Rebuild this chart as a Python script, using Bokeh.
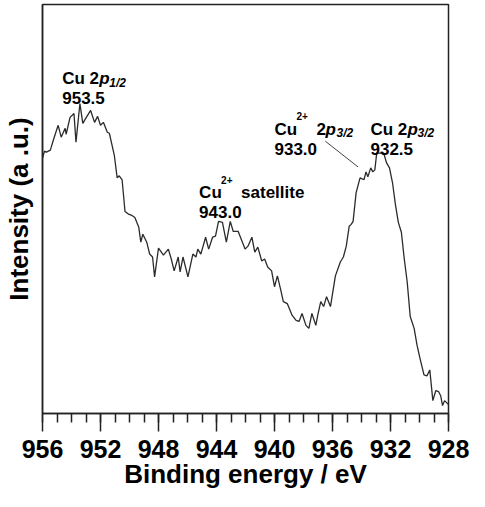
from bokeh.plotting import figure
from bokeh.models import Range1d, SingleIntervalTicker, FixedTicker, Label, ColumnDataSource
from bokeh.embed import file_html
from bokeh.resources import INLINE

# Binding energy (eV) and intensity (a.u.)
energy = [956.00, 955.86, 955.73, 955.46, 955.19, 954.92, 954.71, 954.44, 954.37, 954.10,
          953.83, 953.69, 953.42, 953.22, 953.02, 952.68, 952.41, 952.20, 952.00, 951.80,
          951.53, 951.39, 951.05, 950.85, 950.71, 950.51, 950.31, 950.03, 949.83, 949.63,
          949.36, 949.22, 949.08, 948.81, 948.61, 948.41, 948.27, 948.00, 947.66, 947.32,
          947.12, 946.92, 946.64, 946.51, 946.31, 945.97, 945.63, 945.42, 945.29, 945.08,
          944.75, 944.54, 944.27, 944.07, 943.86, 943.59, 943.32, 943.05, 942.85, 942.51,
          942.03, 941.83, 941.56, 941.36, 941.15, 940.88, 940.68, 940.47, 940.20, 940.00,
          939.80, 939.59, 939.39, 939.12, 938.78, 938.51, 938.31, 938.10, 937.83, 937.63,
          937.42, 937.15, 937.02, 936.81, 936.61, 936.41, 936.14, 935.80, 935.46, 935.25,
          935.05, 934.85, 934.71, 934.58, 934.37, 934.10, 933.83, 933.69, 933.56, 933.36,
          933.22, 933.08, 932.95, 932.68, 932.47, 932.27, 932.07, 931.86, 931.66, 931.46,
          931.25, 931.05, 930.85, 930.64, 930.37, 930.17, 929.97, 929.69, 929.49, 929.29,
          929.08, 928.88, 928.68, 928.54, 928.41, 928.27, 928.00]
intensity = [258, 265, 264, 266, 279, 291, 279, 288, 282, 299,
             303, 274, 313, 293, 298, 306, 294, 300, 291, 294,
             284, 283, 261, 238, 240, 236, 204, 201, 200, 198,
             188, 173, 181, 173, 161, 158, 138, 167, 160, 166,
             156, 144, 158, 143, 158, 138, 161, 158, 166, 161,
             178, 166, 178, 179, 194, 193, 173, 194, 184, 184,
             166, 169, 178, 163, 168, 154, 156, 148, 144, 128,
             139, 126, 113, 111, 99, 94, 93, 101, 89, 86,
             101, 89, 99, 113, 108, 118, 108, 139, 153, 158,
             169, 189, 191, 194, 223, 238, 236, 244, 239, 248,
             244, 246, 263, 263, 263, 253, 248, 233, 211, 193,
             183, 156, 133, 98, 86, 69, 56, 39, 38, 44,
             13, 23, 22, 18, 8, 13, 9]

x_min, x_max = 956, 928
y_min, y_max = 0, 413

x_title = "Binding energy / eV"
y_title = "Intensity (a .u.)"

FONT = "Liberation Sans"
INK = "#222222"

p = figure(width=469, height=491, output_backend="svg", toolbar_location=None,
           x_range=Range1d(x_min, x_max), y_range=Range1d(y_min, y_max),
           min_border_left=39, min_border_right=21, min_border_top=4, min_border_bottom=0)

src = ColumnDataSource(dict(e=energy, i=intensity))
p.line("e", "i", source=src, line_color="#2b2b2b", line_width=1.3)

# leader line for Cu2+ 2p3/2
p.line([936.5, 934.24], [275, 249], line_color="#444444", line_width=1)

p.xgrid.visible = False
p.ygrid.visible = False
p.outline_line_color = INK
p.outline_line_width = 1.5
p.background_fill_color = "white"
p.border_fill_color = "white"

xa = p.xaxis[0]
xa.ticker = SingleIntervalTicker(interval=4, num_minor_ticks=4)
xa.major_tick_out = 18
xa.major_tick_in = 0
xa.minor_tick_out = 9
xa.minor_tick_in = 0
xa.major_tick_line_color = INK
xa.minor_tick_line_color = INK
xa.major_tick_line_width = 1.5
xa.minor_tick_line_width = 1.5
xa.axis_line_color = INK
xa.axis_line_width = 1.5
xa.major_label_text_font = FONT
xa.major_label_text_font_style = "bold"
xa.major_label_text_font_size = "25px"
xa.major_label_text_color = "black"
xa.major_label_standoff = 8
xa.axis_label = x_title
xa.axis_label_text_font = FONT
xa.axis_label_text_font_style = "bold"
xa.axis_label_text_font_size = "26px"
xa.axis_label_text_color = "black"
xa.axis_label_standoff = -2

ya = p.yaxis[0]
ya.ticker = FixedTicker(ticks=[])
ya.major_tick_out = 0
ya.major_tick_in = 0
ya.minor_tick_out = 0
ya.minor_tick_in = 0
ya.major_label_standoff = 0
ya.axis_line_color = INK
ya.axis_line_width = 1.5
ya.axis_label = y_title
ya.axis_label_text_font = FONT
ya.axis_label_text_font_style = "bold"
ya.axis_label_text_font_size = "26px"
ya.axis_label_text_color = "black"
ya.axis_label_standoff = 9


def lab(x, y, text, size, style="bold", dx=0, dy=0):
    p.add_layout(Label(x=x, y=y, text=text, x_offset=dx, y_offset=dy,
                       text_font=FONT, text_font_style=style,
                       text_font_size=size, text_color="black",
                       text_baseline="alphabetic", text_align="left"))


# Cu 2p1/2
lab(954.64, 338, "Cu 2", "17px")
lab(954.64, 338, "p", "17px", "bold italic", dx=37)
lab(954.64, 338, "1/2", "12px", "bold italic", dx=47, dy=-4)
lab(954.64, 319, "953.5", "17px")

# Cu2+ satellite
lab(945.2, 223, "Cu", "17px")
lab(945.2, 223, "2+", "10px", dx=22, dy=13)
lab(945.2, 223, "satellite", "17px", dx=42)
lab(945.2, 203, "943.0", "17px")

# Cu2+ 2p3/2
lab(940.0, 287, "Cu", "17px")
lab(940.0, 287, "2+", "10px", dx=22, dy=13)
lab(940.0, 287, "2", "17px", dx=42)
lab(940.0, 287, "p", "17px", "bold italic", dx=51)
lab(940.0, 287, "3/2", "12px", "bold italic", dx=62, dy=-4)
lab(940.0, 267, "933.0", "17px")

# Cu 2p3/2
lab(933.38, 287, "Cu 2", "17px")
lab(933.38, 287, "p", "17px", "bold italic", dx=37)
lab(933.38, 287, "3/2", "12px", "bold italic", dx=47, dy=-4)
lab(933.38, 267, "932.5", "17px")

open("out.html", "w").write(file_html(p, INLINE))
